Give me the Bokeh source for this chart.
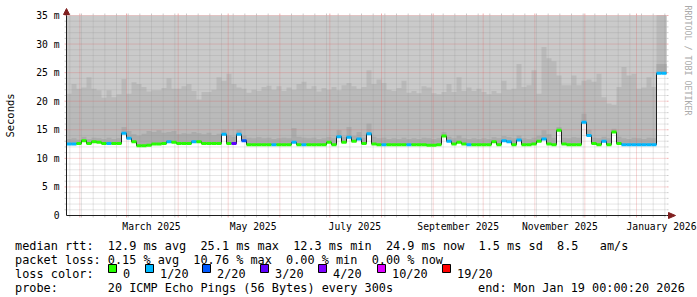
import math
from datetime import date, timedelta
from bokeh.plotting import figure
from bokeh.models import Range1d, FixedTicker, LinearAxis
from bokeh.core.properties import value
from bokeh.embed import file_html
from bokeh.resources import INLINE

# ---------------- data ----------------
START = date(2025, 1, 24)          # 360 days ending Mon Jan 19 2026
SPAN_DAYS = 360
STEP_DAYS = 3                      # one consolidated sample every 3 days

median_ms = [
    12.5, 12.5, 12.6, 13.1, 12.6, 12.9, 12.8, 12.6, 12.6, 12.6,
    12.6, 14.4, 13.5, 12.9, 12.2, 12.2, 12.3, 12.5, 12.5, 12.6,
    12.9, 12.8, 12.6, 12.6, 12.6, 12.9, 12.9, 12.6, 12.6, 12.6,
    12.6, 14.2, 12.6, 12.6, 14.2, 13.1, 12.4, 12.4, 12.4, 12.4,
    12.4, 12.4, 12.4, 12.4, 12.4, 12.8, 12.4, 12.4, 12.4, 12.4,
    12.4, 12.4, 12.8, 12.4, 13.8, 12.8, 13.7, 13.0, 13.4, 12.6,
    14.3, 12.5, 12.4, 12.4, 12.4, 12.4, 12.4, 12.4, 12.4, 12.4,
    12.4, 12.4, 12.3, 12.3, 12.4, 13.9, 13.0, 12.5, 12.8, 12.5,
    12.4, 12.4, 12.4, 12.4, 12.4, 12.9, 12.4, 13.1, 12.9, 12.4,
    13.2, 12.4, 12.4, 12.5, 13.0, 13.4, 12.5, 12.4, 14.9, 12.5,
    12.4, 12.4, 12.4, 16.3, 14.0, 12.6, 12.4, 13.0, 12.4, 14.6,
    12.6, 12.4, 12.4, 12.4, 12.4, 12.4, 12.4, 12.4, 24.9, 24.9,
]

loss_level = [
    1, 1, 0, 0, 0, 0, 0, 0, 1, 0,
    0, 1, 1, 0, 0, 0, 0, 0, 0, 0,
    1, 0, 0, 0, 0, 1, 0, 0, 0, 0,
    0, 1, 0, 3, 1, 2, 0, 0, 0, 0,
    0, 1, 0, 0, 0, 1, 0, 1, 0, 0,
    0, 0, 0, 0, 1, 0, 1, 0, 1, 0,
    1, 0, 0, 1, 0, 0, 0, 0, 1, 0,
    0, 0, 0, 0, 0, 0, 1, 0, 0, 0,
    1, 0, 0, 0, 0, 0, 0, 1, 1, 0,
    1, 0, 0, 0, 0, 1, 0, 0, 0, 0,
    0, 0, 0, 1, 1, 0, 0, 1, 0, 0,
    0, 1, 1, 1, 1, 1, 1, 1, 1, 1,
]

smoke_upper_ms = [
    21.3, 23.0, 22.2, 22.4, 24.2, 22.2, 21.9, 20.6, 21.9, 20.7,
    21.2, 23.9, 21.3, 23.3, 23.0, 22.5, 21.7, 21.9, 21.9, 22.3,
    24.0, 22.2, 22.2, 22.6, 23.0, 21.8, 20.3, 21.6, 21.6, 22.0,
    24.2, 23.6, 24.8, 23.0, 22.4, 22.2, 21.5, 22.0, 21.8, 22.5,
    22.7, 22.0, 22.6, 21.8, 22.4, 22.0, 23.0, 23.4, 22.2, 22.6,
    21.7, 22.3, 22.0, 22.5, 21.9, 22.8, 23.2, 22.6, 22.2, 22.5,
    25.4, 23.0, 23.8, 23.2, 22.0, 21.8, 22.3, 23.6, 21.5, 21.8,
    21.4, 22.6, 22.4, 21.4, 21.2, 21.6, 23.0, 21.6, 24.2, 21.8,
    22.4, 21.8, 22.2, 21.6, 21.2, 21.8, 21.4, 23.6, 22.0, 22.2,
    26.5, 22.5, 22.8, 25.4, 21.3, 29.5, 27.5, 27.0, 24.5, 22.8,
    22.8, 24.5, 22.8, 23.6, 23.8, 23.4, 24.8, 20.7, 19.6, 19.4,
    22.5, 26.0, 24.5, 24.8, 22.2, 22.4, 24.2, 22.5, 40.0, 40.0,
]

smoke_inner_ms = [
    13.4, 13.5, 13.3, 13.8, 13.4, 13.6, 13.5, 13.4, 13.6, 13.4,
    13.5, 15.5, 14.8, 14.2, 14.0, 14.3, 14.8, 14.6, 14.9, 14.5,
    14.6, 14.8, 14.2, 14.4, 14.3, 14.6, 14.4, 14.2, 14.5, 14.1,
    14.3, 15.0, 14.0, 13.8, 15.0, 14.0, 13.6, 13.5, 13.7, 13.5,
    13.6, 13.4, 13.5, 13.6, 13.5, 15.3, 13.8, 13.6, 13.5, 13.6,
    13.4, 13.5, 13.7, 13.5, 14.9, 13.8, 15.5, 13.9, 14.6, 13.6,
    16.1, 13.8, 13.5, 13.6, 13.4, 13.5, 13.4, 13.6, 13.4, 13.5,
    13.4, 13.6, 13.5, 13.4, 13.5, 14.6, 13.8, 13.5, 14.0, 13.5,
    13.4, 13.5, 13.4, 13.5, 13.4, 13.7, 13.5, 13.9, 13.7, 13.5,
    14.0, 13.5, 13.4, 13.6, 14.0, 14.9, 14.2, 13.6, 15.5, 13.6,
    13.5, 13.7, 13.6, 17.8, 15.0, 13.6, 13.5, 13.8, 13.5, 15.2,
    13.8, 13.5, 13.4, 13.6, 13.5, 13.4, 13.6, 13.5, 26.5, 26.5,
]

loss_labels = ["0", "1/20", "2/20", "3/20", "4/20", "10/20", "19/20"]
loss_colors = ["#26ff00", "#00b8ff", "#0059ff", "#5e00ff", "#7e00ff", "#dd00ff", "#ff0000"]

y_ticks = [0, 5, 10, 15, 20, 25, 30, 35]
y_tick_labels = ["0", "5 m", "10 m", "15 m", "20 m", "25 m", "30 m", "35 m"]
Y_MAX = 35

x_label_months = [date(2025, 3, 1), date(2025, 5, 1), date(2025, 7, 1),
                  date(2025, 9, 1), date(2025, 11, 1), date(2026, 1, 1)]
x_label_text = ["March 2025", "May 2025", "July 2025",
                "September 2025", "November 2025", "January 2026"]

legend_rtt = "median rtt:  12.9 ms avg  25.1 ms max  12.3 ms min  24.9 ms now  1.5 ms sd  8.5   am/s"
legend_loss = "packet loss: 0.15 % avg  10.76 % max  0.00 % min  0.00 % now"
legend_loss_title = "loss color:"
legend_probe = "probe:       20 ICMP Echo Pings (56 Bytes) every 300s"
legend_end = "end: Mon Jan 19 00:00:20 2026"
watermark = "RRDTOOL / TOBI OETIKER"

# ---------------- derived positions ----------------
def day(d):
    return (d - START).days

edges = [i * STEP_DAYS for i in range(len(median_ms) + 1)]
med_s = median_ms + [median_ms[-1]]
up_s = [min(v, Y_MAX) for v in smoke_upper_ms + [smoke_upper_ms[-1]]]   # clipped at graph top
in_s = [min(v, Y_MAX) for v in smoke_inner_ms + [smoke_inner_ms[-1]]]

month_starts = []
d = date(2025, 2, 1)
while day(d) <= SPAN_DAYS:
    month_starts.append(day(d))
    d = date(d.year + (d.month // 12), d.month % 12 + 1, 1)
sundays = []
d = START
while day(d) <= SPAN_DAYS:
    if d.weekday() == 6 and day(d) not in month_starts:
        sundays.append(day(d))
    d += timedelta(days=1)
label_ticks = [day(m) + 15 for m in x_label_months]
y_minor = [v for v in range(1, Y_MAX) if v % 5]

# ---------------- canvas geometry (rrdtool 600x200 graph) ----------------
W, H = 697, 297
FL, FT, FW, FH = 66, 15, 600, 200
FB = FT + FH
PX_X = SPAN_DAYS / FW
PX_Y = Y_MAX / FH

def X(px):
    return (px - FL) * PX_X

def Y(py):
    return (FB - py) * PX_Y

p = figure(width=W, height=H, x_axis_type=None, y_axis_type=None,
           x_range=Range1d(X(0), X(W)), y_range=Range1d(Y(H), Y(0)),
           output_backend="svg", toolbar_location=None, min_border=0,
           background_fill_color="white", border_fill_color="white")
p.min_border_left = p.min_border_right = p.min_border_top = p.min_border_bottom = 0
p.outline_line_color = None

# smoke bands
LIGHT, MID, DARK = "#cacaca", "#bababa", "#ababab"
p.varea_step(x=edges, y1=med_s, y2=[Y_MAX] * len(edges), step_mode="after", fill_color=LIGHT)
p.varea_step(x=edges, y1=med_s, y2=up_s, step_mode="after", fill_color=MID)
p.varea_step(x=edges, y1=med_s, y2=in_s, step_mode="after", fill_color=DARK)

# grid (dotted, drawn over the smoke) with 2px ticks outside the graph area
GRID, MGRID = "#8f8f8f", "#de4f4f"
def vlines(xs, color, alpha):
    n = len(xs)
    p.segment(x0=xs, y0=[0] * n, x1=xs, y1=[Y_MAX] * n, line_color=color,
              line_alpha=alpha, line_dash="1 1", line_width=1)
    p.segment(x0=xs + xs, y0=[Y(FB)] * n + [Y(FT)] * n, x1=xs + xs,
              y1=[Y(FB + 2)] * n + [Y(FT - 2)] * n, line_color=color, line_alpha=alpha)

def hlines(ys, color, alpha):
    n = len(ys)
    p.segment(x0=[0] * n, y0=ys, x1=[SPAN_DAYS] * n, y1=ys, line_color=color,
              line_alpha=alpha, line_dash="1 1", line_width=1)
    p.segment(x0=[X(FL)] * n + [X(FL + FW)] * n, y0=ys + ys,
              x1=[X(FL - 2)] * n + [X(FL + FW + 2)] * n, y1=ys + ys,
              line_color=color, line_alpha=alpha)

vlines(sundays, GRID, 0.45)
hlines(y_minor, GRID, 0.45)
vlines(month_starts, MGRID, 0.45)
hlines(y_ticks[1:], MGRID, 0.45)

# median line coloured by loss
p.step(x=edges, y=med_s, mode="after", line_color="#202020", line_width=1)
p.segment(x0=edges[:-1], x1=edges[1:], y0=median_ms, y1=median_ms,
          line_color=[loss_colors[l] for l in loss_level], line_width=3, line_cap="butt")

# axes
AXIS = "#1f1f1f"
FONT = "DejaVu Sans Mono"
yax = LinearAxis(fixed_location=0, bounds=(0, Y_MAX),
                 ticker=FixedTicker(ticks=y_ticks, minor_ticks=[]))
yax.major_label_overrides = {t: s for t, s in zip(y_ticks, y_tick_labels)}
yax.axis_label = "Seconds"
yax.axis_label_text_font = FONT
yax.axis_label_text_font_size = "10.5px"
yax.axis_label_text_font_style = "normal"
yax.axis_label_text_color = "black"
yax.axis_label_standoff = 17
yax.major_label_standoff = 7
p.add_layout(yax, "left")

xax = LinearAxis(fixed_location=0, bounds=(0, SPAN_DAYS),
                 ticker=FixedTicker(ticks=label_ticks, minor_ticks=[]))
xax.major_label_overrides = {t: s for t, s in zip(label_ticks, x_label_text)}
xax.major_label_standoff = 5
p.add_layout(xax, "below")

for ax in (xax, yax):
    ax.axis_line_color = AXIS
    ax.major_tick_out = 0
    ax.major_tick_in = 0
    ax.minor_tick_out = 0
    ax.minor_tick_in = 0
    ax.major_label_text_font = FONT
    ax.major_label_text_font_size = "9.7px"
    ax.major_label_text_color = "black"

# axis arrows
ARROW = "#801f1f"
p.segment(x0=[0, SPAN_DAYS], y0=[Y_MAX, 0], x1=[0, X(670)], y1=[Y(10), 0], line_color=AXIS)
p.patch(x=[X(FL - 3), X(FL + 3), X(FL)], y=[Y(14), Y(14), Y(8)], fill_color=ARROW, line_color=ARROW)
p.patch(x=[X(668), X(668), X(675)], y=[Y(FB - 3), Y(FB + 3), Y(FB)], fill_color=ARROW, line_color=ARROW)

# legend texts (spaces kept as no-break spaces so the monospace columns survive)
NBSP = "\u00a0"
def txt(px, py, s, size="11.85px", color="black", **kw):
    p.text(x=[X(px)], y=[Y(py)], text=[s.replace(" ", NBSP)], text_font=value(FONT),
           text_font_size=value(size), text_color=color,
           text_baseline=kw.pop("baseline", "alphabetic"), **kw)

txt(14.6, 245, legend_rtt)
txt(14.6, 259, legend_loss)
txt(14.6, 273, legend_loss_title)
txt(14.6, 287, legend_probe)
txt(477.5, 287, legend_end)

box_x = [108, 145, 202, 260, 318, 377, 442]
p.quad(left=[X(b) for b in box_x], right=[X(b + 8) for b in box_x],
       top=[Y(264)] * len(box_x), bottom=[Y(272)] * len(box_x),
       fill_color=loss_colors, line_color="black", line_width=1)
for b, lab in zip(box_x, loss_labels):
    txt(b + 14.5, 273, lab)

txt(687, 5, watermark, size="8.3px", color="#aaaaaa", angle=-math.pi / 2, baseline="middle")

open("out.html", "w").write(file_html(p, INLINE))
